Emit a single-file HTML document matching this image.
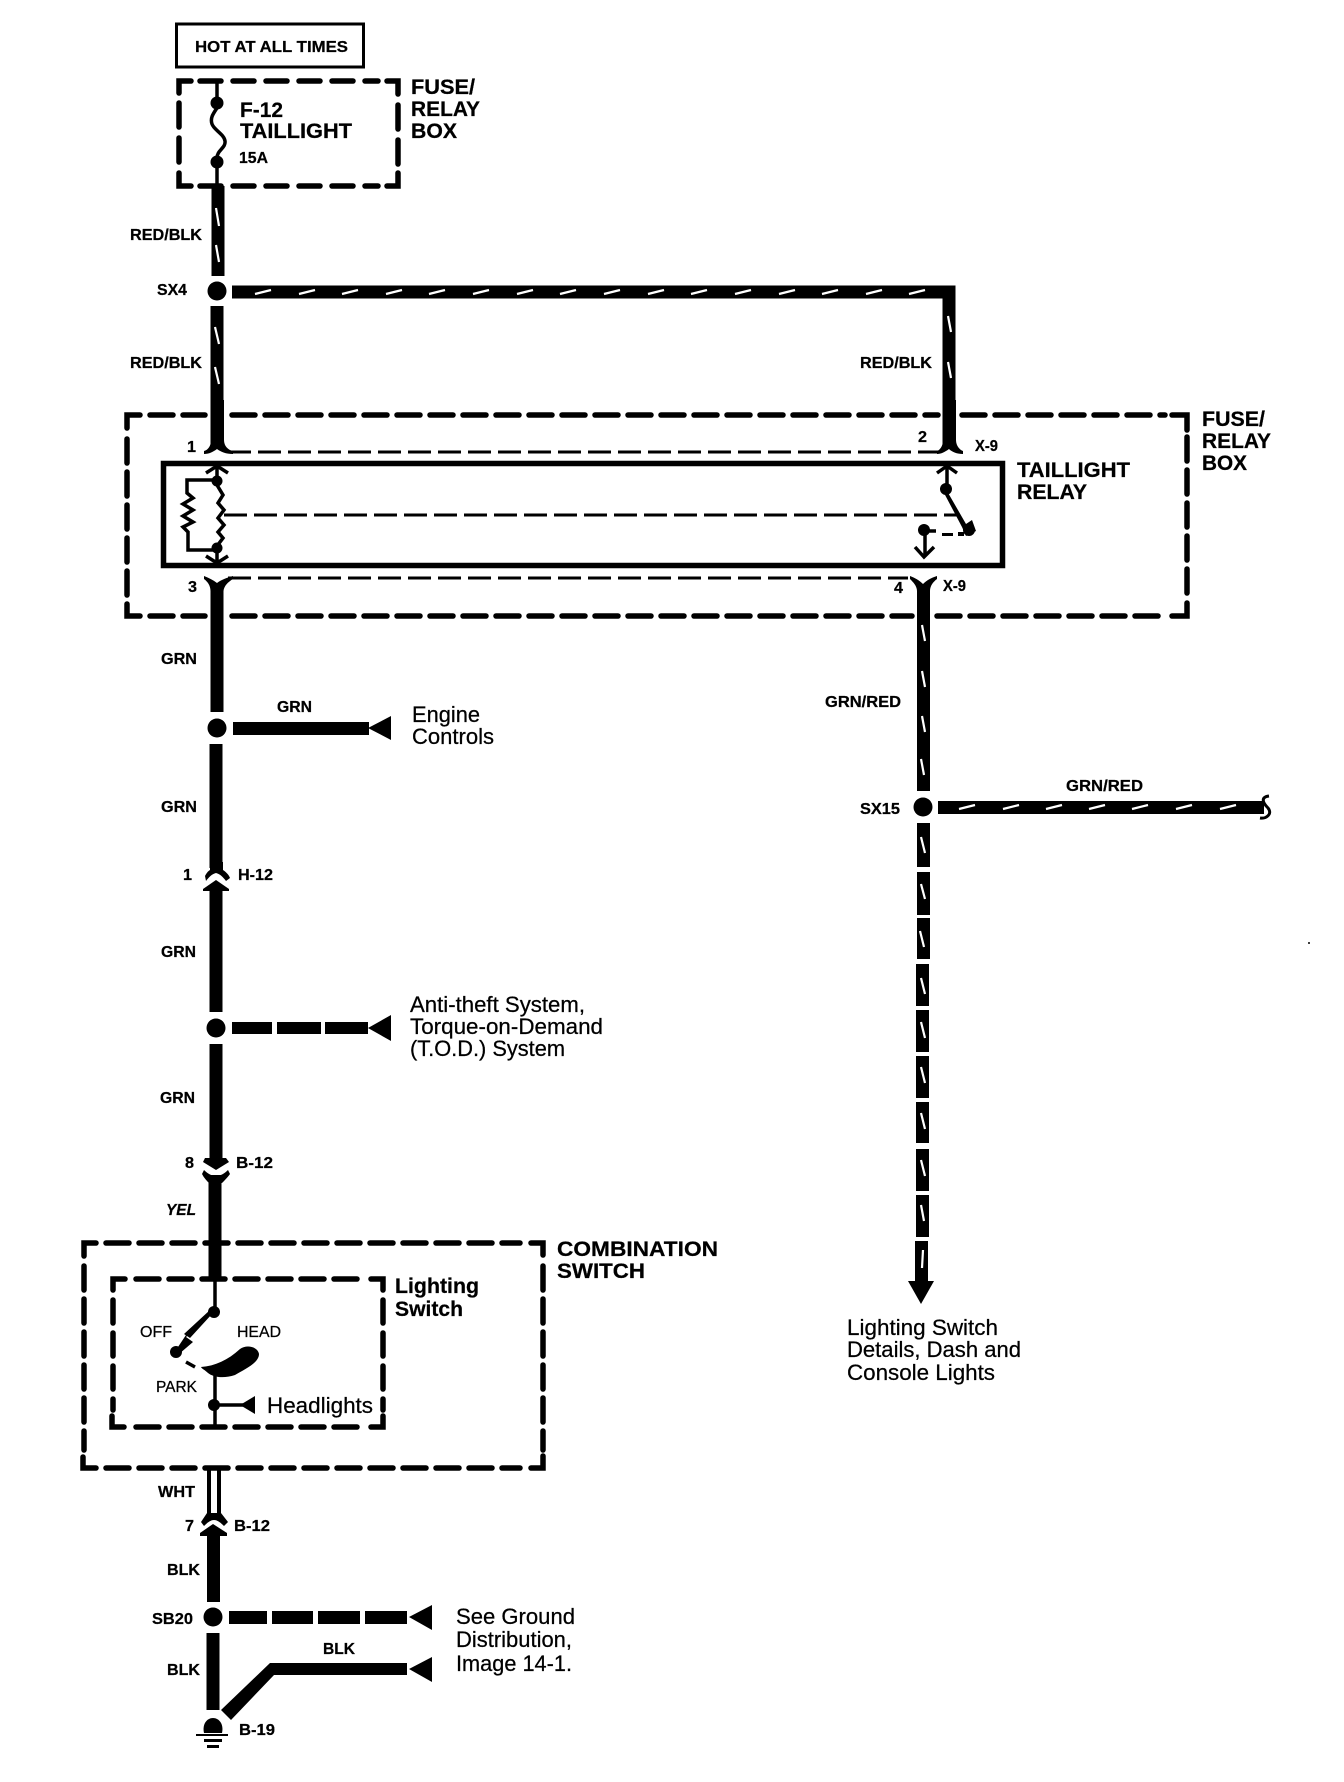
<!DOCTYPE html>
<html><head><meta charset="utf-8"><style>
html,body{margin:0;padding:0;background:#fff}
svg{display:block}
text{font-family:"Liberation Sans",sans-serif;fill:#000;stroke:#000;stroke-width:.25}
.b{font-weight:bold;font-size:16px}
.h{font-weight:bold;font-size:21.5px}
.r{font-size:22px}
.s{font-size:16px}
.d{fill:none;stroke:#000;stroke-width:5.5;stroke-linecap:round;stroke-dasharray:21 12}
.c{fill:none;stroke:#000;stroke-width:5.5;stroke-linecap:round;stroke-linejoin:miter}
.t{fill:none;stroke:#000;stroke-width:3;stroke-dasharray:23 7}
.n{fill:none;stroke:#000;stroke-width:3.5}
.w{fill:none;stroke:#000;stroke-width:13}
.sl{fill:none;stroke:#fff;stroke-width:2.2}
</style></head><body>
<svg width="1344" height="1782" viewBox="0 0 1344 1782" xmlns="http://www.w3.org/2000/svg">
<rect width="1344" height="1782" fill="#fff"/>

<!-- HOT box -->
<rect x="176.5" y="24" width="187" height="43" fill="none" stroke="#000" stroke-width="3"/>
<text class="b" x="195" y="52" textLength="153" lengthAdjust="spacingAndGlyphs">HOT AT ALL TIMES</text>

<!-- Fuse box top -->
<path class="c" d="M191,81 H179 V93 M387,81 H398 V94 M179,173 V186 H191 M387,186 H398 V173"/>
<path class="d" d="M200,81 H378 M200,186 H378"/>
<path class="d" stroke-dashoffset="0" d="M179,103 V166 M398,105 V166" style="stroke-dasharray:24 11"/>
<path class="n" d="M217,80 V103 M217,162 V186"/>
<circle cx="217" cy="103" r="6.5"/><circle cx="217" cy="162" r="6.5"/>
<path class="n" d="M217,108 C213,114 210,118 212,124 C214,130 224,134 225,141 C226,148 217,150 217,158"/>
<text class="h" x="240" y="117" textLength="43" lengthAdjust="spacingAndGlyphs">F-12</text>
<text class="h" x="240" y="138" textLength="112" lengthAdjust="spacingAndGlyphs">TAILLIGHT</text>
<text class="b" x="239" y="163" textLength="29" lengthAdjust="spacingAndGlyphs">15A</text>
<text class="h" x="411" y="94" textLength="64" lengthAdjust="spacingAndGlyphs">FUSE/</text>
<text class="h" x="411" y="116" textLength="69" lengthAdjust="spacingAndGlyphs">RELAY</text>
<text class="h" x="411" y="138" textLength="46" lengthAdjust="spacingAndGlyphs">BOX</text>

<!-- main wires top -->
<path class="w" d="M218,186 V276 M217,306 V448"/>
<circle cx="217" cy="291" r="9.5"/>
<path class="w" d="M232,292 H949 V447"/>
<path class="sl" d="M216,208 L219,226 M216,245 L219,262 M215,327 L219,344 M215,367 L219,384 M215,411 L219,429
M255,294 L271,290 M299,294 L315,290 M342,294 L358,290 M386,294 L402,290 M429,294 L445,290 M473,294 L489,290 M517,294 L533,290 M560,294 L576,290 M604,294 L620,290 M648,294 L664,290 M691,294 L707,290 M735,294 L751,290 M779,294 L795,290 M822,294 L838,290 M866,294 L882,290 M909,294 L925,290
M948,316 L951,332 M948,362 L951,378 M948,409 L951,425"/>
<text class="b" x="130" y="240" textLength="72" lengthAdjust="spacingAndGlyphs">RED/BLK</text>
<text class="b" x="157" y="295" textLength="30" lengthAdjust="spacingAndGlyphs">SX4</text>
<text class="b" x="130" y="368" textLength="72" lengthAdjust="spacingAndGlyphs">RED/BLK</text>
<text class="b" x="860" y="368" textLength="72" lengthAdjust="spacingAndGlyphs">RED/BLK</text>

<!-- Relay outer dashed box -->
<path class="c" d="M140,415 H127 V428 M1172,415 H1187 V430 M127,604 V616 H140 M1172,616 H1187 V603"/>
<path class="d" d="M150,415 H205 M232,415 H938 M962,415 H1165 M150,616 H205 M232,616 H912 M937,616 H1165" style="stroke-dasharray:23 10"/>
<path class="d" d="M127,439 V595 M1187,437 V595" style="stroke-dasharray:24 9"/>
<path class="t" d="M228,452 H940 M228,578 H908"/>
<!-- relay rect -->
<rect x="163.5" y="463.5" width="839" height="102" fill="none" stroke="#000" stroke-width="5.5"/>
<!-- connectors pins -->
<path d="M211,400 H224 V440 C224,446 228,450 233,451 V454 C226,454 221,452 217,449 C213,452 209,454 204,454 V451 C208,450 211,446 211,440Z"/>
<path d="M210.5,620 H223.5 V591 C224,586 228,582 233,579 V576 C226,578 221,580 217,583 C213,580 209,578 204,576 V579 C208,582 210.5,586 210.5,591Z"/>
<rect x="210.5" y="618" width="13" height="30"/>
<path d="M943,400 H956 V440 C956,446 960,450 963,451 V454 C957,454 952,452 949,449 C945,452 941,454 937,454 V451 C940,450 943,446 943,440Z"/>
<path d="M917,640 H930 V591 C930,586 933,582 937,579 V576 C931,578 927,580 923,584 C919,580 915,578 910,576 V579 C913,582 917,586 917,591Z"/>
<!-- coil -->
<path class="n" d="M206,473 L217,466 L228,473 M217,466 V481 M206,556 L217,563 L228,556 M217,563 V547"/>
<circle cx="217" cy="481" r="5.5"/><circle cx="217" cy="548" r="5.5"/>
<path class="n" d="M217,480 H187 V493 L193,498 L183,504 L193,510 L183,516 L193,522 L183,527 L188,532 V550 H217"/>
<path class="n" d="M217,485 L223,495 L218,503 L224,510 L218,518 L224,525 L218,532 L223,538 L217,546"/>
<path class="t" d="M224,515 H957"/>
<!-- relay switch -->
<path class="n" d="M937,473 L947,466 L957,473 M947,466 V489"/>
<circle cx="946" cy="489" r="6"/>
<path d="M947,491 L966,524 L972,520 L976,531 L966,536 L962,527 L944,493Z"/>
<circle cx="969" cy="530" r="6"/>
<circle cx="924" cy="530" r="6"/>
<path class="n" d="M925,530 V556 M915,547 L924,557 L934,547 M926,531 H936"/>
<path d="M942,533 H953 V536 H942Z M958,532 H964 V536 H958Z"/>
<text class="b" x="187" y="452" textLength="9" lengthAdjust="spacingAndGlyphs">1</text>
<text class="b" x="188" y="592" textLength="9" lengthAdjust="spacingAndGlyphs">3</text>
<text class="b" x="918" y="442" textLength="9" lengthAdjust="spacingAndGlyphs">2</text>
<text class="b" x="894" y="593" textLength="9" lengthAdjust="spacingAndGlyphs">4</text>
<text class="b" x="975" y="451" textLength="23" lengthAdjust="spacingAndGlyphs">X-9</text>
<text class="b" x="943" y="591" textLength="23" lengthAdjust="spacingAndGlyphs">X-9</text>
<text class="h" x="1017" y="477" textLength="113" lengthAdjust="spacingAndGlyphs">TAILLIGHT</text>
<text class="h" x="1017" y="499" textLength="70" lengthAdjust="spacingAndGlyphs">RELAY</text>
<text class="h" x="1202" y="426" textLength="63" lengthAdjust="spacingAndGlyphs">FUSE/</text>
<text class="h" x="1202" y="448" textLength="69" lengthAdjust="spacingAndGlyphs">RELAY</text>
<text class="h" x="1202" y="470" textLength="45" lengthAdjust="spacingAndGlyphs">BOX</text>

<!-- left lower main -->
<path class="w" d="M217,640 V712 M216,744 V868 M216,888 V1012 M216,1044 V1160 M215,1175 V1279"/>
<circle cx="217" cy="728" r="9.5"/>
<rect x="233" y="722" width="136" height="13"/>
<path d="M391,716 V740 L368,728Z"/>
<text class="b" x="161" y="664" textLength="36" lengthAdjust="spacingAndGlyphs">GRN</text>
<text class="b" x="277" y="712" textLength="35" lengthAdjust="spacingAndGlyphs">GRN</text>
<text class="b" x="161" y="812" textLength="36" lengthAdjust="spacingAndGlyphs">GRN</text>
<text class="r" x="412" y="722" textLength="68" lengthAdjust="spacingAndGlyphs">Engine</text>
<text class="r" x="412" y="744" textLength="82" lengthAdjust="spacingAndGlyphs">Controls</text>

<!-- H-12 -->
<path d="M210,862 H223 V870 C226,872 229,875 230,878 L226,881 C223,877 220,874 216,873 C212,874 209,877 206,881 L205,876 C206,874 208,871 210,870Z"/>
<path d="M216,880 L229,889 V891 H203 V889Z"/>
<text class="b" x="183" y="880" textLength="9" lengthAdjust="spacingAndGlyphs">1</text>
<text class="b" x="238" y="880" textLength="35" lengthAdjust="spacingAndGlyphs">H-12</text>
<text class="b" x="161" y="957" textLength="35" lengthAdjust="spacingAndGlyphs">GRN</text>

<!-- anti theft -->
<circle cx="216" cy="1028" r="9.5"/>
<rect x="232" y="1022" width="40" height="12"/><rect x="277" y="1022" width="44" height="12"/><rect x="325" y="1022" width="43" height="12"/>
<path d="M391,1015 V1041 L368,1028Z"/>
<text class="r" x="410" y="1012" textLength="175" lengthAdjust="spacingAndGlyphs">Anti-theft System,</text>
<text class="r" x="410" y="1034" textLength="193" lengthAdjust="spacingAndGlyphs">Torque-on-Demand</text>
<text class="r" x="410" y="1056" textLength="155" lengthAdjust="spacingAndGlyphs">(T.O.D.) System</text>
<text class="b" x="160" y="1103" textLength="35" lengthAdjust="spacingAndGlyphs">GRN</text>

<!-- B-12 top -->
<path d="M205,1158 H226 L229,1162 L216,1170 L203,1162Z"/>
<path d="M204,1170 C208,1174 212,1176 216,1176 C220,1176 224,1174 228,1170 L230,1174 C227,1178 224,1181 222,1183 H209 C207,1181 204,1178 202,1174Z"/>
<text class="b" x="185" y="1168" textLength="9" lengthAdjust="spacingAndGlyphs">8</text>
<text class="b" x="236" y="1168" textLength="37" lengthAdjust="spacingAndGlyphs">B-12</text>
<text class="b" x="166" y="1215" textLength="30" lengthAdjust="spacingAndGlyphs" font-style="italic">YEL</text>

<!-- Combination -->
<path class="c" d="M96,1243 H84 V1256 M531,1243 H543 V1255 M83,1457 V1468 H96 M531,1468 H543 V1456"/>
<path class="d" d="M106,1243 H520 M106,1468 H520" style="stroke-dasharray:23 10"/>
<path class="d" d="M84,1266 V1450 M543,1266 V1450" style="stroke-dasharray:24 9"/>
<path class="c" d="M125,1279 H113 V1290 M371,1279 H383 V1290 M112,1416 V1427 H124 M371,1427 H383 V1416"/>
<path class="d" d="M136,1279 H360 M136,1427 H360" style="stroke-dasharray:23 10"/>
<path class="d" d="M113,1300 V1410 M383,1300 V1410" style="stroke-dasharray:23 10"/>
<text class="h" x="557" y="1256" textLength="161" lengthAdjust="spacingAndGlyphs">COMBINATION</text>
<text class="h" x="557" y="1278" textLength="88" lengthAdjust="spacingAndGlyphs">SWITCH</text>
<text class="h" x="395" y="1293" textLength="84" lengthAdjust="spacingAndGlyphs">Lighting</text>
<text class="h" x="395" y="1316" textLength="68" lengthAdjust="spacingAndGlyphs">Switch</text>
<!-- lighting switch -->
<path class="n" d="M215,1279 V1312 M215,1372 V1427 M216,1405 H243"/>
<circle cx="214" cy="1312" r="6"/><circle cx="176" cy="1352" r="6"/><circle cx="214" cy="1405" r="6"/>
<path d="M213,1312 L186,1337 L193,1342 L179,1354 L176,1350 L186,1335 L211,1310Z M212,1314 L190,1338 L184,1334 L210,1310Z"/>
<path class="n" d="M186,1362 L195,1367"/>
<path d="M201,1367 C215,1366 228,1360 240,1349 C247,1344 258,1347 259,1354 C259,1363 245,1369 235,1375 C223,1379 213,1377 208,1373 C205,1370 202,1369 201,1367Z"/>
<path d="M255,1396 V1414 L240,1405Z"/>
<text class="s" x="140" y="1337" textLength="32" lengthAdjust="spacingAndGlyphs">OFF</text>
<text class="s" x="237" y="1337" textLength="44" lengthAdjust="spacingAndGlyphs">HEAD</text>
<text class="s" x="156" y="1392" textLength="41" lengthAdjust="spacingAndGlyphs">PARK</text>
<text class="r" x="267" y="1413" textLength="106" lengthAdjust="spacingAndGlyphs">Headlights</text>

<!-- WHT -->
<path d="M207,1468 H211 V1516 H207Z M217,1468 H221 V1516 H217Z"/>
<path d="M207,1513 H221 L228,1522 L224,1526 C220,1522 217,1520 214,1520 C211,1520 208,1522 204,1526 L201,1522Z"/>
<path d="M213,1524 L227,1533 V1536 H220 V1602 H207 V1536 H200 V1533Z"/>
<text class="b" x="158" y="1497" textLength="37" lengthAdjust="spacingAndGlyphs">WHT</text>
<text class="b" x="185" y="1531" textLength="9" lengthAdjust="spacingAndGlyphs">7</text>
<text class="b" x="234" y="1531" textLength="36" lengthAdjust="spacingAndGlyphs">B-12</text>
<text class="b" x="167" y="1575" textLength="33" lengthAdjust="spacingAndGlyphs">BLK</text>

<!-- SB20 -->
<circle cx="213" cy="1617" r="9.5"/>
<rect x="229" y="1611" width="38" height="13"/><rect x="272" y="1611" width="41" height="13"/><rect x="318" y="1611" width="42" height="13"/><rect x="365" y="1611" width="42" height="13"/>
<path d="M432,1605 V1630 L409,1617Z"/>
<path d="M432,1657 V1682 L409,1669Z"/>
<path class="w" d="M213,1633 V1710"/>
<path d="M221,1710 L270,1663 H407 V1675 H274 L231,1720Z"/>
<!-- ground -->
<path d="M204,1733 C202,1724 207,1718 213,1718 C219,1718 224,1724 222,1733Z"/>
<path d="M196,1734 H228 V1736 H196Z M204,1739 H222 V1742 H204Z M207,1745 H219 V1748 H207Z"/>
<text class="b" x="152" y="1624" textLength="41" lengthAdjust="spacingAndGlyphs">SB20</text>
<text class="b" x="167" y="1675" textLength="33" lengthAdjust="spacingAndGlyphs">BLK</text>
<text class="b" x="323" y="1654" textLength="32" lengthAdjust="spacingAndGlyphs">BLK</text>
<text class="b" x="239" y="1735" textLength="36" lengthAdjust="spacingAndGlyphs">B-19</text>
<text class="r" x="456" y="1624" textLength="119" lengthAdjust="spacingAndGlyphs">See Ground</text>
<text class="r" x="456" y="1647" textLength="116" lengthAdjust="spacingAndGlyphs">Distribution,</text>
<text class="r" x="456" y="1671" textLength="116" lengthAdjust="spacingAndGlyphs">Image 14-1.</text>

<!-- Right lower wire -->
<rect x="917" y="640" width="13" height="151"/>
<circle cx="923" cy="807" r="9.5"/>
<rect x="917" y="823" width="13" height="44"/><rect x="917" y="872" width="13" height="43"/><rect x="917" y="918" width="13" height="41"/>
<rect x="916" y="964" width="13" height="42"/><rect x="916" y="1010" width="13" height="42"/><rect x="916" y="1056" width="13" height="42"/><rect x="916" y="1102" width="13" height="41"/><rect x="916" y="1149" width="13" height="42"/><rect x="916" y="1195" width="13" height="42"/><rect x="915" y="1241" width="13" height="42"/>
<path d="M908,1281 H934 L921,1304Z"/>
<path class="sl" d="M922,625 L925,641 M922,671 L925,687 M922,716 L925,732 M921,759 L924,775
M921,837 L925,853 M921,884 L925,899 M920,931 L924,947 M921,978 L925,994 M921,1022 L925,1038 M921,1067 L925,1083 M921,1113 L925,1129 M921,1160 L925,1176 M921,1205 L924,1221 M923,1250 L922,1268"/>
<rect x="938" y="801" width="326" height="13"/>
<path class="sl" d="M959,809 L975,805 M1003,809 L1019,805 M1046,809 L1062,805 M1089,809 L1105,805 M1132,809 L1148,805 M1176,809 L1192,805 M1220,809 L1236,805"/>
<path d="M1269,796 C1261,797 1262,802 1268,808 C1273,814 1266,819 1260,818" fill="none" stroke="#000" stroke-width="3"/>
<text class="b" x="825" y="707" textLength="76" lengthAdjust="spacingAndGlyphs">GRN/RED</text>
<text class="b" x="1066" y="791" textLength="77" lengthAdjust="spacingAndGlyphs">GRN/RED</text>
<text class="b" x="860" y="814" textLength="40" lengthAdjust="spacingAndGlyphs">SX15</text>
<text class="r" x="847" y="1335" textLength="151" lengthAdjust="spacingAndGlyphs">Lighting Switch</text>
<text class="r" x="847" y="1357" textLength="174" lengthAdjust="spacingAndGlyphs">Details, Dash and</text>
<text class="r" x="847" y="1380" textLength="148" lengthAdjust="spacingAndGlyphs">Console Lights</text>
<circle cx="1309" cy="943" r="1"/>
</svg>
</body></html>
